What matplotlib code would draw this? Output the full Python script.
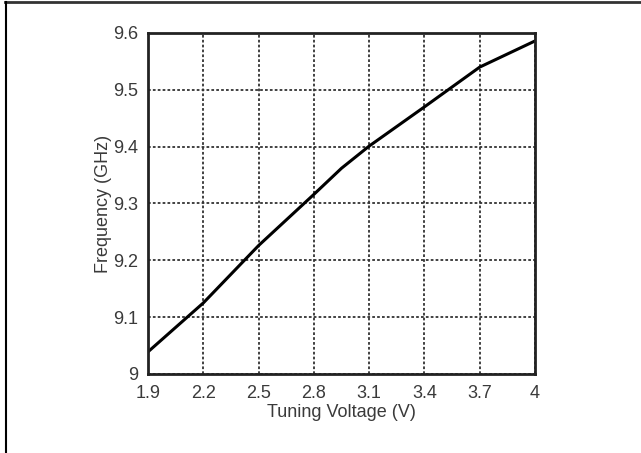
import matplotlib
matplotlib.use("Agg")
import matplotlib.pyplot as plt
from matplotlib.lines import Line2D

voltage = [1.9, 2.2, 2.5, 2.8, 2.95, 3.1, 3.4, 3.7, 4.0]
frequency = [9.039, 9.125, 9.226, 9.316, 9.362, 9.401, 9.470, 9.540, 9.586]
x_ticks = [1.9, 2.2, 2.5, 2.8, 3.1, 3.4, 3.7, 4.0]
x_tick_labels = ["1.9", "2.2", "2.5", "2.8", "3.1", "3.4", "3.7", "4"]
y_ticks = [9.0, 9.1, 9.2, 9.3, 9.4, 9.5, 9.6]
y_tick_labels = ["9", "9.1", "9.2", "9.3", "9.4", "9.5", "9.6"]

plt.rcParams['font.family'] = ['Liberation Sans', 'DejaVu Sans']

fig = plt.figure(figsize=(6.41, 4.53), dpi=100)
fig.patch.set_facecolor("white")
ax = fig.add_axes([148/641, 1-374/453, (535-148)/641, (374-33)/453])

ax.plot(voltage, frequency, color="black", lw=2.2, solid_joinstyle="round")
ax.set_xlim(1.9, 4.0)
ax.set_ylim(9.0, 9.6)
ax.set_xticks(x_ticks)
ax.set_xticklabels(x_tick_labels)
ax.set_yticks(y_ticks)
ax.set_yticklabels(y_tick_labels)
ax.tick_params(length=0, labelsize=13, labelcolor="#3a3a3a")
ax.tick_params(axis="x", pad=8)
ax.tick_params(axis="y", pad=7)
ax.grid(True, color="#333333", linestyle=(0, (1.5, 1.2)), lw=1.3)
ax.set_axisbelow(True)
for s in ax.spines.values():
    s.set_linewidth(2)
    s.set_color("#222222")

ax.set_xlabel("Tuning Voltage (V)", fontsize=13, color="#3a3a3a", labelpad=1.5)
ax.set_ylabel("Frequency (GHz)", fontsize=13, color="#3a3a3a", labelpad=1)

fig.add_artist(Line2D([5/641, 1], [1-1.5/453, 1-1.5/453], transform=fig.transFigure, color="#333333", lw=2))
fig.add_artist(Line2D([5.5/641, 5.5/641], [0, 1-1.5/453], transform=fig.transFigure, color="black", lw=1.5))

fig.savefig("out.png", dpi=100)
